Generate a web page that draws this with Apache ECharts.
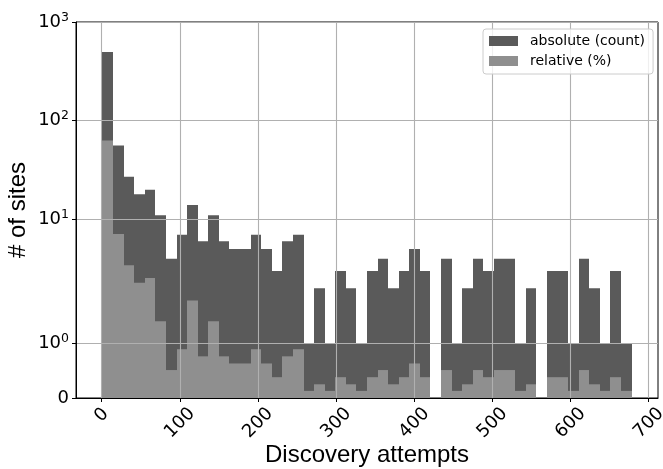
<!DOCTYPE html>
<html>
<head>
<meta charset="utf-8">
<script src="https://cdn.jsdelivr.net/npm/echarts@6/dist/echarts.min.js"></script>
<style>
  html, body { margin: 0; padding: 0; background: #fff; }
  #chart { width: 663px; height: 469px; }
</style>
</head>
<body>
<div id="chart"></div>
<script>
// Histogram of discovery attempts per site (50 equal-width bins).
const binLow = 1;
const binHigh = 678;

// Sites per bin
const absoluteCounts = [
  497, 56, 27, 18, 20, 11, 4, 7, 14, 6,
  11, 6, 5, 5, 7, 5, 3, 6, 7, 1,
  2, 1, 3, 2, 1, 3, 4, 2, 3, 5,
  3, 0, 4, 1, 2, 4, 3, 4, 4, 1,
  2, 0, 3, 3, 1, 4, 2, 1, 3, 1
];

// Share of all sites per bin, in percent
const relativePercent = [
  63.07, 7.11, 3.43, 2.28, 2.54, 1.40, 0.51, 0.89, 1.78, 0.76,
  1.40, 0.76, 0.63, 0.63, 0.89, 0.63, 0.38, 0.76, 0.89, 0.13,
  0.25, 0.13, 0.38, 0.25, 0.13, 0.38, 0.51, 0.25, 0.38, 0.63,
  0.38, 0, 0.51, 0.13, 0.25, 0.51, 0.38, 0.51, 0.51, 0.13,
  0.25, 0, 0.38, 0.38, 0.13, 0.51, 0.25, 0.13, 0.38, 0.13
];

const xTicks = [0, 100, 200, 300, 400, 500, 600, 700];
const yTicks = [0, 1, 10, 100, 1000];
const yTickExponents = [null, '0', '1', '2', '3'];

const seriesNames = ['absolute (count)', 'relative (%)'];
const seriesColors = ['#5a5a5a', '#8f8f8f'];

// Symmetric-log scale: linear up to 2, logarithmic beyond
const LIN_THRESH = 2;
const LIN_SCALE_ADJ = 1 / (1 - 1 / 10);
function symlog(v) {
  if (v <= LIN_THRESH) return v * LIN_SCALE_ADJ;
  return LIN_THRESH * (LIN_SCALE_ADJ + Math.log10(v / LIN_THRESH));
}

const binWidth = (binHigh - binLow) / absoluteCounts.length;
function binData(values) {
  return values.map((v, i) => [binLow + i * binWidth, binLow + (i + 1) * binWidth, symlog(v)]);
}

const span = binHigh - binLow;
const xMin = binLow - 0.05 * span;
const xMax = binHigh + 0.05 * span;

const yTickPos = yTicks.map(symlog);

function barRenderer(color) {
  return function (params, api) {
    const x0 = api.value(0), x1 = api.value(1), h = api.value(2);
    if (!(h > 0)) return null;
    const pTop = api.coord([x0, h]);
    const pBase = api.coord([x1, 0]);
    // snap the side edges so neighbouring bins meet without seams
    const left = Math.round(pTop[0]);
    const right = Math.round(pBase[0]);
    return {
      type: 'rect',
      shape: { x: left, y: pTop[1], width: right - left, height: pBase[1] - pTop[1] },
      style: { fill: color }
    };
  };
}

const chart = echarts.init(document.getElementById('chart'), null, { renderer: 'canvas' });

const tickFont = 'DejaVu Sans';
const titleFont = 'Liberation Sans, Arial, sans-serif';

chart.setOption({
  animation: false,
  backgroundColor: '#fff',
  grid: {
    left: 76, top: 22, right: 5, bottom: 71,
    containLabel: false,
    outerBoundsMode: 'none',
    show: true, borderColor: '#000', borderWidth: 1, backgroundColor: 'transparent'
  },
  legend: {
    data: seriesNames.map(n => ({ name: n, icon: 'rect' })),
    orient: 'vertical',
    left: 483, top: 29,
    itemWidth: 29, itemHeight: 10, itemGap: 6,
    padding: [5, 8, 6, 6],
    backgroundColor: 'rgba(255,255,255,0.8)',
    borderColor: '#cccccc', borderWidth: 1, borderRadius: 3,
    textStyle: { fontFamily: tickFont, fontSize: 14, color: '#000', lineHeight: 14, padding: [0, 0, 0, 7] }
  },
  xAxis: {
    type: 'value',
    min: xMin, max: xMax,
    z: 3,
    name: 'Discovery attempts',
    nameLocation: 'middle',
    nameGap: 45,
    nameMoveOverlap: false,
    nameTextStyle: { fontFamily: titleFont, fontSize: 24, color: '#000', verticalAlign: 'top' },
    axisLine: { show: true, onZero: false, lineStyle: { color: '#000', width: 1 } },
    axisTick: { show: true, length: 4, customValues: xTicks, lineStyle: { color: '#000', width: 1 } },
    axisLabel: {
      customValues: xTicks,
      rotate: 45,
      align: 'center',
      verticalAlign: 'middle',
      margin: 25,
      fontFamily: tickFont, fontSize: 18, color: '#000',
      formatter: v => v === 0 ? '{z|0}' : String(v),
      rich: { z: { fontFamily: tickFont, fontSize: 18, color: '#000', padding: [0, 0, 11, 11] } }
    },
    splitLine: { show: true, lineStyle: { color: '#b0b0b0', width: 1.1 } }
  },
  yAxis: {
    type: 'value',
    min: 0, max: symlog(1000),
    z: 3,
    name: '# of sites',
    nameLocation: 'middle',
    nameGap: 46,
    nameMoveOverlap: false,
    nameRotate: 90,
    nameTextStyle: { fontFamily: titleFont, fontSize: 24, color: '#000' },
    axisLine: { show: true, onZero: false, lineStyle: { color: '#000', width: 1 } },
    axisTick: { show: true, length: 4, customValues: yTickPos, lineStyle: { color: '#000', width: 1 } },
    axisLabel: {
      customValues: yTickPos,
      margin: 7,
      fontFamily: tickFont, fontSize: 18, color: '#000',
      formatter: function (v) {
        let idx = 0, best = Infinity;
        yTickPos.forEach((p, i) => { const d = Math.abs(p - v); if (d < best) { best = d; idx = i; } });
        const e = yTickExponents[idx];
        return e === null ? '{b|0}' : '{b|10}{s|' + e + '}';
      },
      rich: {
        b: { fontFamily: tickFont, fontSize: 18, color: '#000', lineHeight: 22, verticalAlign: 'middle' },
        s: { fontFamily: tickFont, fontSize: 12.5, color: '#000', lineHeight: 12.5, verticalAlign: 'top' }
      }
    },
    splitLine: { show: true, lineStyle: { color: '#b0b0b0', width: 1.1 } }
  },
  series: [
    {
      name: seriesNames[0],
      type: 'custom',
      renderItem: barRenderer(seriesColors[0]),
      itemStyle: { color: seriesColors[0] },
      encode: { x: [0, 1], y: 2 },
      data: binData(absoluteCounts),
      z: 1
    },
    {
      name: seriesNames[1],
      type: 'custom',
      renderItem: barRenderer(seriesColors[1]),
      itemStyle: { color: seriesColors[1] },
      encode: { x: [0, 1], y: 2 },
      data: binData(relativePercent),
      z: 2
    }
  ]
});
</script>
</body>
</html>
